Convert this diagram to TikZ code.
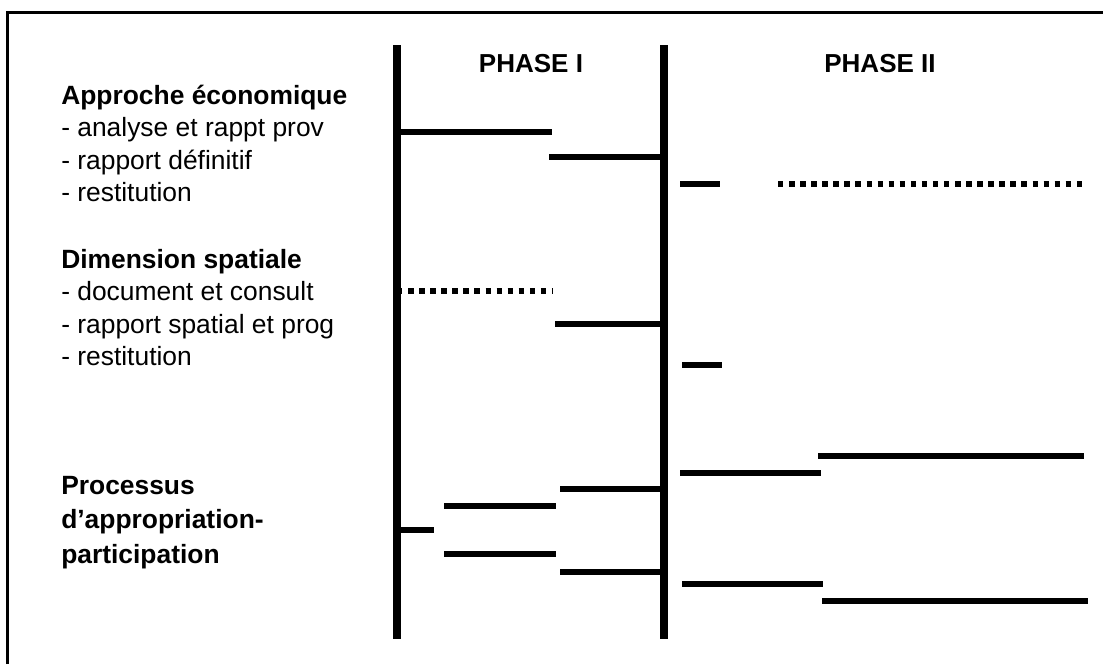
\documentclass[tikz,border=0pt]{standalone}
\usepackage{fontspec}
\setmainfont{Liberation Sans}
\begin{document}
\begin{tikzpicture}[x=0.75pt,y=-0.75pt,
  frame/.style={line width=2.25pt},
  axis/.style={line width=6pt},
  bar/.style={line width=4.5pt},
  dots/.style={line width=4.5pt, dash pattern=on 4.1pt off 4.2pt},
  head/.style={font=\bfseries\fontsize{19.8}{23}\selectfont, anchor=base west, inner sep=0pt},
  item/.style={font=\fontsize{19.8}{23}\selectfont, anchor=base west, inner sep=0pt},
  phase/.style={font=\bfseries\fontsize{19.5}{23}\selectfont, anchor=base, inner sep=0pt}]
\useasboundingbox (0,0) rectangle (1103,664);
% frame (top and left)
\draw[frame] (7.5,664) -- (7.5,12.5) -- (1103,12.5);

% phase labels
\node[phase] (p1) at (531,72) {PHASE I};
\node[phase] (p2) at (880,72) {PHASE II};

% left labels
\node[head] (h1) at (61,104) {Approche économique};
\node[item] (h1a) at (61,136.5) {- analyse et rappt prov};
\node[item] (h1b) at (61,169) {- rapport définitif};
\node[item] (h1c) at (61,201.5) {- restitution};

\node[head] (h2) at (61,268) {Dimension spatiale};
\node[item] (h2a) at (61,300.5) {- document et consult};
\node[item] (h2b) at (61,333) {- rapport spatial et prog};
\node[item] (h2c) at (61,365.5) {- restitution};

\node[head] (h3) at (61,494) {Processus};
\node[head] (h3b) at (61,528.5) {d’appropriation-};
\node[head] (h3c) at (61,563) {participation};

% Approche économique
\draw[bar] (397,132) -- (552,132);
\draw[bar] (549,157) -- (664,157);
\draw[bar] (680,184) -- (720,184);
\draw[dots] (778,184) -- (1084,184);

% Dimension spatiale
\draw[dots] (397,291) -- (552,291);
\draw[bar] (555,324) -- (664,324);
\draw[bar] (682,365) -- (722,365);

% Processus
\draw[bar] (397,530) -- (434,530);
\draw[bar] (444,506) -- (556,506);
\draw[bar] (444,554) -- (556,554);
\draw[bar] (560,489) -- (664,489);
\draw[bar] (560,572) -- (664,572);
\draw[bar] (680,473) -- (821,473);
\draw[bar] (818,456) -- (1084,456);
\draw[bar] (682,584) -- (823,584);
\draw[bar] (822,601) -- (1088,601);

% phase axes
\draw[axis] (397,45) -- (397,639);
\draw[axis] (664,45) -- (664,639);
\end{tikzpicture}
\end{document}
